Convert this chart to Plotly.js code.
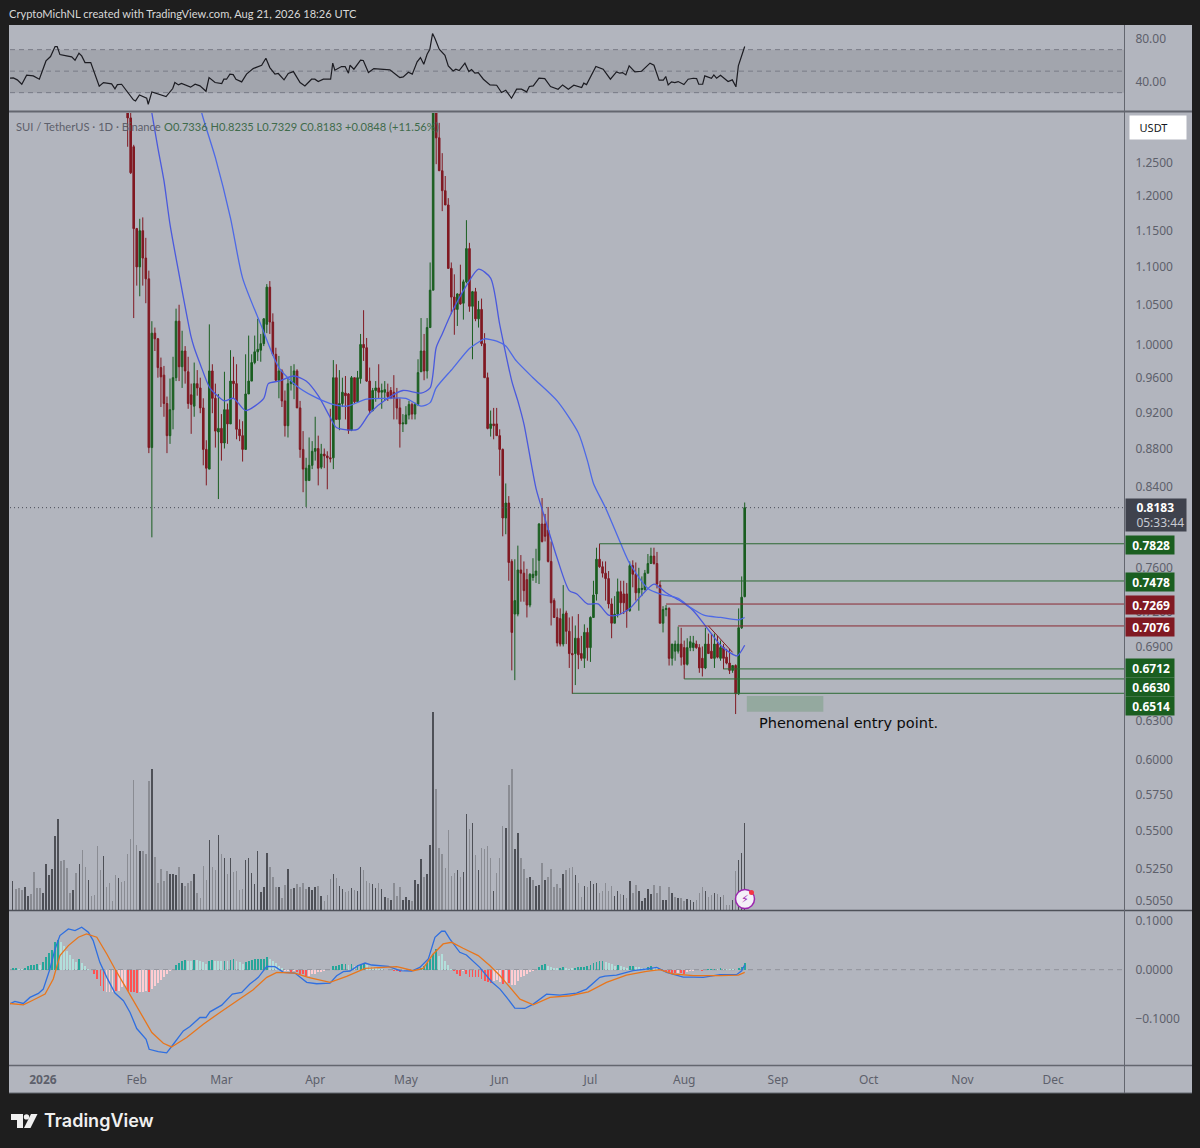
<!DOCTYPE html>
<html><head><meta charset="utf-8">
<script src="https://cdn.plot.ly/plotly-3.0.1.min.js"></script>
<style>html,body{margin:0;padding:0;background:#1e1e1e}#c{width:1200px;height:1148px}</style>
</head><body><div id="c"></div>
<script>
// Days are counted from 2026-01-01 = 0
const firstCandleDay = 28;
const open = [
1.349,1.321,1.275,1.153,1.100,1.150,1.112,1.084,.881,1.014,
1.007,.972,.963,.930,.894,.923,.960,1.029,.973,.992,
.967,.940,.927,.953,.948,.925,.879,.858,.968,.936,
.898,.902,.886,.923,.907,.956,.953,.901,.894,.879,
.941,.956,.978,.991,.993,1.001,1.025,1.073,1.028,.988,
.957,.968,.933,.905,.953,.952,.968,.925,.879,.846,
.846,.862,.877,.880,.860,.874,.872,.870,.870,.960,
.912,.930,.942,.941,.900,.960,.932,.959,1.000,.996,
.956,.922,.945,.948,.943,.943,.943,.945,.943,.936,
.925,.907,.907,.917,.929,.918,.929,.967,.992,.968,
1.021,1.069,1.341,1.289,1.238,1.208,1.187,1.098,1.060,1.044,
1.064,1.052,1.080,1.125,1.048,1.067,1.032,1.044,1.001,.960,
.902,.907,.907,.894,.879,.808,.823,.766,.718,.718,
.758,.755,.749,.726,.751,.753,.767,.802,.802,.796,
.766,.730,.715,.714,.692,.719,.703,.684,.684,.697,
.684,.680,.702,.689,.715,.736,.768,.761,.755,.750,
.727,.710,.718,.738,.736,.736,.721,.762,.754,.737,
.740,.740,.755,.764,.771,.764,.744,.710,.722,.723,
.680,.686,.686,.692,.689,.675,.689,.689,.692,.689,
.680,.672,.692,.686,.680,.692,.680,.689,.681,.676,
.670,.674,.651,.706,.7336];
const high = [
1.366,1.341,1.278,1.154,1.167,1.169,1.140,1.095,1.029,1.021,
1.008,.984,.974,.938,.959,.985,1.045,1.050,1.017,.998,
.985,.953,.978,.969,.960,.936,.889,1.025,.976,.953,
.941,.918,.967,.930,.993,.985,.976,.912,.910,.988,
1.011,.988,1.011,1.032,1.013,1.033,1.077,1.081,1.039,.996,
.986,.970,.945,.960,.974,.976,.970,.933,.899,.870,
.892,.888,.915,.894,.885,.880,.877,.924,.981,.976,
.969,.960,.962,.942,.962,.960,.968,1.013,1.043,1.008,
.972,.948,.956,.976,.953,.956,.953,.949,.963,.948,
.936,.918,.927,.933,.931,.931,.982,1.033,1.013,1.033,
1.106,1.366,1.349,1.313,1.265,1.230,1.197,1.106,1.090,1.065,
1.103,1.083,1.165,1.133,1.068,1.072,1.055,1.058,1.014,.966,
.922,.925,.925,.901,.880,.843,.830,.768,.768,.781,
.772,.766,.759,.755,.769,.778,.803,.828,.812,.819,
.785,.732,.723,.723,.744,.721,.715,.716,.708,.718,
.699,.709,.706,.716,.748,.779,.7828,.766,.766,.757,
.732,.734,.750,.748,.748,.746,.766,.767,.765,.760,
.752,.758,.773,.779,.779,.775,.748,.725,.726,.724,
.692,.695,.707,.706,.695,.697,.699,.699,.695,.692,
.690,.706,.701,.701,.701,.699,.695,.692,.688,.688,
.674,.675,.723,.752,.8235];
const low = [
1.275,1.233,1.033,1.075,1.061,1.075,1.052,.875,.789,.992,
.960,.926,.915,.875,.885,.901,.956,.956,.948,.953,
.924,.896,.915,.939,.919,.862,.841,.858,.919,.881,
.827,.867,.880,.885,.907,.936,.890,.888,.866,.879,
.941,.956,.976,.980,.979,.998,1.014,1.013,.986,.956,
.936,.926,.893,.892,.945,.935,.925,.870,.834,.819,
.846,.858,.867,.841,.858,.859,.837,.865,.858,.912,
.900,.926,.912,.896,.899,.930,.931,.953,.980,.955,
.918,.921,.932,.936,.924,.933,.933,.935,.912,.912,
.881,.898,.907,.912,.912,.912,.927,.967,.957,.959,
1.021,1.069,1.248,1.238,1.178,1.187,1.098,1.038,1.012,1.023,
1.050,1.031,1.078,1.041,.982,1.029,1.021,.998,.960,.901,
.893,.890,.894,.851,.790,.792,.748,.670,.662,.716,
.729,.729,.715,.724,.748,.746,.745,.784,.785,.765,
.708,.715,.690,.690,.690,.692,.672,.651,.658,.671,
.678,.672,.678,.677,.715,.730,.760,.751,.730,.723,
.697,.710,.715,.718,.718,.706,.720,.742,.730,.721,
.734,.739,.755,.764,.763,.741,.710,.702,.716,.674,
.674,.678,.684,.674,.663,.674,.686,.686,.688,.668,
.665,.671,.684,.680,.672,.680,.678,.671,.675,.667,
.668,.635,.650,.705,.7329];
const close = [
1.321,1.235,1.153,1.100,1.150,1.112,1.084,.881,1.014,1.007,
.972,.961,.930,.894,.923,.960,1.029,.973,.992,.968,
.930,.929,.953,.948,.925,.879,.859,.968,.936,.899,
.902,.886,.923,.907,.956,.953,.901,.894,.879,.941,
.956,.978,.991,.994,1.001,1.032,1.073,1.028,.988,.957,
.968,.933,.905,.953,.956,.968,.925,.879,.858,.859,
.862,.877,.880,.859,.874,.872,.870,.869,.960,.912,
.930,.943,.939,.900,.960,.932,.960,1.000,.996,.956,
.922,.945,.948,.943,.945,.946,.938,.936,.936,.925,
.907,.908,.917,.929,.918,.929,.966,.992,.968,1.021,
1.069,1.349,1.289,1.238,1.208,1.187,1.098,1.060,1.044,1.064,
1.051,1.080,1.125,1.048,1.067,1.032,1.044,1.001,.960,.902,
.907,.905,.894,.879,.808,.823,.765,.702,.730,.758,
.755,.739,.726,.754,.754,.757,.802,.785,.790,.766,
.728,.715,.693,.692,.718,.703,.684,.683,.697,.683,
.680,.702,.689,.715,.735,.768,.761,.755,.750,.727,
.710,.718,.738,.728,.728,.721,.762,.754,.737,.741,
.741,.755,.764,.771,.764,.745,.710,.722,.723,.680,
.692,.692,.692,.681,.675,.689,.694,.693,.689,.672,
.672,.692,.684,.680,.692,.681,.689,.680,.676,.670,
.674,.651,.706,.733,.8183];

const fastMaDays = [34,36,38,40,42,45,49,50,52,55,57,60,63,67,73,74.5,78,83,87,91,95,97,104,108,114,119,125,128,130,132,135,140,144,148,151,155,157,159,163,165.5,170,174,176.5,180,183.5,187,190,194,197,202,206,210.5,215,219.5,224,227,229.5,232];
const fastMa = [1.39,1.329,1.273,1.223,1.159,1.090,1.009,.996,.976,.949,.941,.933,.936,.922,.936,.953,.956,.962,.956,.939,.914,.903,.901,.919,.936,.945,.942,.948,.996,1.013,1.039,1.075,1.097,1.085,1.025,.956,.933,.907,.838,.812,.769,.739,.736,.727,.727,.717,.717,.723,.732,.745,.737,.730,.721,.706,.691,.685,.682,.691];
const slowMaDays = [50,52.5,57,62,66,72,78,84,89,95,100.5,107,114,120,125,128,130,135.5,141,144.5,146,150,153,156.5,162,170,177,180,182,186,191,194,200,204,210,214,218.5,224,230,232];
const slowMa = [1.39,1.329,1.258,1.168,1.085,1.025,.972,.950,.939,.930,.927,.935,.936,.936,.927,.931,.948,.971,.995,1.004,1.007,1.004,.998,.980,.960,.933,.897,.867,.843,.818,.783,.764,.741,.736,.732,.724,.717,.715,.713,.715];

const firstVolumeDay = -10;
const volume = [
30,22,23,21,24,15,17,39,23,23,18,47,36,42,75,92,50,51,43,18,21,38,47,61,44,31,15,16,65,41,55,24,28,10,36,33,29,30,57,72,
131,66,60,60,57,130,142,54,28,42,30,40,37,37,36,44,28,25,28,30,37,18,13,45,31,71,44,41,76,57,53,37,53,39,40,21,22,51,53,38,
27,60,19,24,58,44,34,24,24,13,26,42,22,23,27,24,28,22,24,21,24,25,15,10,16,32,37,33,25,22,19,20,23,21,20,44,41,30,28,27,
23,28,22,14,13,11,28,15,24,
11,14,11,10,31,27,52,34,37,66,199,122,63,57,43,81,35,38,41,34,39,97,82,88,56,41,63,62,65,53,20,38,53,85,83,126,142,62,78,53,
42,33,34,31,25,26,48,31,34,42,24,27,23,37,41,43,44,36,28,14,25,24,30,27,28,18,20,28,20,25,15,20,17,16,13,30,18,26,20,10,
13,22,17,26,18,25,11,11,24,18,14,13,13,10,12,11,9,11,18,24,20,14,16,18,17,14,16,6,6,11,40,51,58,88];
const volumeDark = [
1,0,0,0,1,1,0,0,0,0,1,1,1,1,1,1,0,0,0,0,1,0,1,0,0,1,0,0,0,0,1,0,0,0,0,1,0,0,0,0,
0,0,1,0,0,0,1,0,0,0,0,0,1,1,1,0,1,0,0,0,1,0,0,0,0,1,0,0,1,0,1,0,1,0,0,0,0,1,1,1,
1,1,1,1,1,0,0,0,1,0,0,1,0,1,0,0,0,0,1,1,1,0,1,0,0,0,1,0,1,1,0,0,1,0,1,1,0,0,0,1,
1,0,1,1,0,1,0,0,0,
1,1,1,0,1,1,1,0,1,1,1,0,0,0,0,0,0,0,1,0,1,1,0,1,0,1,0,0,0,0,1,0,0,0,1,0,0,1,1,0,
0,0,1,0,1,1,0,1,0,0,0,0,0,1,0,0,0,1,0,0,1,0,1,1,1,0,0,0,0,0,1,1,0,1,0,1,0,0,1,1,
1,1,1,0,0,0,1,1,0,1,0,1,0,0,1,1,1,0,0,0,1,0,0,1,0,1,0,0,0,1,0,1,1,1];

const rsiDays = [-11.1,-9.8,-8.5,-7,-5.4,-3.2,-1.2,1,2.5,4,4.7,5.6,7.8,9.5,10.6,11.9,12.8,13.9,15.8,18.6,20,22.7,23.8,24.6,26,28.2,29.9,30.6,31.9,34.3,34.8,36,40.7,42.9,43.6,44.8,45.8,48.8,50.3,51.9,53.9,54.9,56.9,59.1,59.8,60.7,61.8,62.9,63.8,65.7,67.3,69.5,72.3,73.7,75,76.7,77.8,79.7,81.1,82.8,85,86.6,88.8,89.9,91,92.7,95.1,95.8,96.5,98.7,99.9,101,101.5,102.8,105,105.9,107.6,109.4,114.7,117.5,
118,119.1,120.8,122.1,123.7,124.8,125.9,127,127.9,128.8,129.6,131,132.9,134,135.6,136.5,137.6,139.5,140.8,141.7,142.8,143.9,145.6,147.8,150,151.6,153,154.9,156.6,158.2,159.9,160.8,162.1,164,165.9,167.8,170.3,171.8,173.7,175.5,178.1,178.8,179.7,182.8,185.2,187.6,189.6,190.7,191.6,192.7,193.8,195.7,197.9,200.7,202,203.7,205.1,205.9,206.7,207.8,208.9,210,211.9,213.3,215,216.1,216.8,218.1,218.8,221,221.8,222.7,224,226.5,227.9,229.1,229.9,232];
const rsi = [43.4,43.7,41.9,37.8,46.2,45.6,42.5,59.5,63.6,72.9,72.9,65.4,64.2,63.3,60.2,66.7,64.2,58,58,36,39.4,38.2,33.5,37.5,37.8,30.1,23.3,22.3,27.9,24.8,19.2,30.7,26.4,33.8,39.4,37.2,38.5,35.1,37.8,36.3,31.3,44,39.4,38.5,42.5,42.5,47.2,46.8,42.5,40,47.2,52.4,55.5,62,53.3,47.2,47.8,41.9,47.8,49.6,39.4,36.3,42.5,42.5,40.3,42.5,42.5,57.4,50.9,54.3,54.3,48.1,55.5,51.8,60.2,59.9,48.7,52.4,51.2,45,
44,44.7,49,47.2,58.6,62.6,56.4,65.7,70.4,85,80.3,70.4,64.8,54.9,50.2,51.8,50.6,57.4,49.6,51.5,48.1,48.7,42.5,37.2,36.9,30.1,32.3,24.8,33.2,33.2,30.7,35.7,36.3,43.4,43.1,35.7,33.2,37.2,33.2,36.9,34.7,38.8,37.5,54.3,51.8,42.5,49.3,48.1,48.7,46.5,54.9,49.3,49.9,57.4,55.5,41.6,41.6,45,37.2,40,39.4,40.3,37.5,42.5,43.4,43.1,37.8,37.8,45.6,43.4,46.5,43.4,46.2,40.3,41.9,35.4,54.9,72.9];

const macdDays = [-11.1,-9.3,-6.5,-4.3,-1.5,.1,2.3,4,5.6,8.4,10.6,12.8,15,16.6,18.8,21.1,23.8,26.6,28.8,31,34.1,35.1,38.1,40.9,43.1,46.4,48.6,51.9,53.9,55.2,59.1,62.6,65.7,68.4,71.2,74,76.7,79.5,83.3,87.2,90.5,94.9,97.1,99.3,101.5,104.2,106.5,108.7,114.2,116.9,
118,121.9,124.6,127.4,129.6,131.8,132.9,134.5,137.8,140,144.4,148.3,151.1,153.3,156,159.3,162.1,166.5,170.9,176.4,179.7,184.1,185.8,189.6,195.1,199.5,202.9,206.2,211.7,215,218.3,223.8,229.3,231,232];
const macd = [-.0708,-.0653,-.0694,-.0570,-.0488,-.0399,.0014,.0426,.0701,.0838,.0804,.0873,.0770,.0598,.0151,-.0158,-.0481,-.0639,-.0880,-.1210,-.1430,-.1636,-.1684,-.1711,-.1533,-.1258,-.1168,-.0983,-.0983,-.0866,-.0729,-.0502,-.0467,-.0296,-.0158,.0069,.0062,-.0055,-.0069,-.0261,-.0289,-.0275,-.0124,-.0041,-.0027,.0082,.0137,.0096,.0069,.0014,
-.0021,-.0027,.0048,.0220,.0667,.0790,.0790,.0632,.0357,.0302,.0048,-.0247,-.0399,-.0570,-.0790,-.0797,-.0708,-.0502,-.0522,-.0481,-.0399,-.0158,-.0131,-.0110,-.0021,.0014,.0048,-.0055,-.0151,-.0151,-.0158,-.0103,-.0103,-.0021,.0096];
const signalDays = [-11.1,-6.5,-3.7,.7,3.4,5.6,8.4,11.7,14.4,17.8,21.1,23.8,27.7,32.1,36,39.8,42.5,47.5,53,58.5,64,69.5,74,77.3,83.3,87.7,94.9,100.4,106.5,116.9,
118,122.4,125.7,129,132.3,135.1,138.9,143.9,147.8,151.1,154.4,157.7,162.1,167.6,174.2,180.3,186.3,192.9,199.5,204,208.4,215,223.8,229.9,232];
const signal = [-.0694,-.0722,-.0639,-.0502,-.0192,.0289,.0495,.0667,.0735,.0667,.0323,.0014,-.0399,-.0880,-.1292,-.1512,-.1588,-.1395,-.1120,-.0880,-.0639,-.0412,-.0158,-.0055,-.0069,-.0158,-.0261,-.0137,.0027,.0062,
.0048,-.0021,.0027,.0323,.0529,.0563,.0440,.0289,.0082,-.0124,-.0364,-.0605,-.0722,-.0570,-.0536,-.0454,-.0261,-.0110,-.0034,0,-.0089,-.0124,-.0124,-.0110,-.0055];

// histogram, thousandths; one value per day from firstVolumeDay
const macdHistMilli = [
4.1,3.4,.7,.7,4.1,7.6,9.6,10.3,11,9.6,15.1,25.4,34.4,41.2,56.4,61.1,56.4,48.1,39.2,30.9,22,15.1,22,13.7,8.2,1.4,0,
-8.9,-19.2,-33,-43.3,-46.7,-46.7,-45.4,-43.3,-43.3,-36.4,-33,-43.3,-45.4,-46.7,-48.8,-45.4,-45.4,-43.3,-46.7,-39.9,-33,-27.5,-20.6,-15.8,-8.9,-3.4,0,
9.6,13.7,17.9,19.9,18.6,18.6,20.6,20.6,17.2,15.1,11.7,18.6,19.9,18.6,17.9,17.2,18.6,18.6,20.6,22,17.9,15.1,11,15.1,17.9,19.9,22,22,22,22.7,25.4,22,17.2,13.1,8.2,3.4,
-2.7,-3.4,-4.1,-2.1,-4.1,-8.9,-8.9,-12.4,-12.4,-9.6,-8.2,-5.5,-4.1,-2.7,-1.4,0,
6.9,8.2,10.3,11,11,9.6,11,8.2,10.3,11.7,13.7,10.3,6.2,4.8,3.4,2.1,1.4,0,
-.7,-1.4,-2.1,-3.4,-4.8,-2.7,-1.4,-.7,0,
.7,1.4,4.1,8.2,13.7,22,32.3,42.6,28.9,32.3,18.6,9.6,1.4,
-3.4,-8.9,-12.4,-2.7,-8.9,-14.4,-14.4,-15.8,-15.1,-19.2,-22.7,-24.7,-27.5,-23.4,-20.6,-26.1,-29.6,-27.5,-27.5,-31.6,-31.6,-22.7,-15.8,-12.4,-8.9,-5.5,-2.1,0,
6.2,9.6,11,8.2,5.5,3.4,3.4,4.1,4.8,2.7,2.1,2.7,4.1,4.8,4.8,6.2,6.9,9.6,13.7,15.1,17.2,17.2,15.1,13.1,11,8.2,9.6,7.6,5.5,4.1,8.2,8.2,6.2,6.2,4.1,4.1,4.8,8.2,5.5,3.4,1.4,
-1.4,-3.4,-5.5,-6.9,-7.6,-7.6,-7.6,-8.2,-5.5,-2.7,-2.7,-.7,-.7,-2.1,0,
2.1,2.1,2.1,1.4,3.4,1.4,1.4,1.4,1.4,0,3.4,6.2,13.7];
const macdHistStrong = [
1,1,0,0,1,1,1,1,1,0,1,1,1,1,1,1,0,0,0,0,0,0,1,0,0,0,0,
1,1,1,1,0,0,0,1,0,0,0,1,1,1,1,0,0,0,1,0,0,0,0,0,0,0,0,
1,1,1,1,0,0,1,0,0,0,0,1,1,0,0,0,1,0,1,1,0,0,0,1,1,1,1,1,1,1,1,0,0,0,0,0,
0,0,1,0,1,1,1,1,0,0,0,0,0,0,0,0,
1,1,1,1,1,0,1,0,1,1,1,0,0,0,0,0,0,0,
0,1,1,1,1,0,0,0,0,
1,1,1,1,1,1,1,1,0,0,0,0,0,
1,1,1,0,1,1,1,1,1,1,1,1,1,0,0,0,1,0,1,0,0,0,0,0,0,0,0,0,
1,1,1,0,0,0,0,1,1,0,0,0,1,1,1,1,1,1,1,1,1,1,0,0,0,0,1,0,0,0,1,1,0,0,0,0,1,1,0,0,0,
0,1,1,1,1,0,1,1,0,0,0,0,1,1,0,
1,1,1,0,1,0,0,0,0,0,1,1,1];

const levels = [.7828,.7478,.7269,.7076,.6712,.6630,.6514];
const levelStartDays = [184,204,206,210,225,212,175];
const levelKinds = ['up','up','down','down','up','up','up'];
const levelLabels = ['0.7828','0.7478','0.7269','0.7076','0.6712','0.6630','0.6514'];
const levelLabelShifts = [1,1,1,1,-1,8.5,12.5];
const lastPrice = .8183;
const trendDays = [220,228];
const trendPrices = [.7076,.685];
const entryDays = [232.7,258];
const entryPrices = [.6368,.6493];
const priceTicks = [1.25,1.2,1.15,1.1,1.05,1,.96,.92,.88,.84,.76,.72,.69,.63,.6,.575,.55,.525,.505];
const rsiTicks = [80,40];
const macdTicks = [.1,0,-.1];
const macdTickText = ['0.1000','0.0000','\u22120.1000'];
const monthTicks = ['2026-01-01','2026-02-01','2026-03-01','2026-04-01','2026-05-01','2026-06-01','2026-07-01','2026-08-01','2026-09-01','2026-10-01','2026-11-01','2026-12-01'];
const monthLabels = ['<b>2026</b>','Feb','Mar','Apr','May','Jun','Jul','Aug','Sep','Oct','Nov','Dec'];

const dayDate = d => new Date(Date.UTC(2026,0,1)+d*864e5).toISOString().replace('T',' ').slice(0,19);
const W=1200,H=1148,L=10,R=1124,T=25,B=1066;
const px = x => (x-L)/(R-L);
const py = y => (B-y)/(B-T);
const domain = (top,bot) => [py(bot),py(top)];
const xMax = dayDate(357.4), xMin = dayDate(-10.9);

const UP='#1a5e20', DOWN='#801922', TXT='#5d606b', BG='#b2b5be';
const FONT='"Noto Sans", "Open Sans", sans-serif';
const TEXTFONT='Lato, "Noto Sans", sans-serif';
const candleX = open.map((_,i)=>dayDate(firstCandleDay+i));
const dailyX = volume.map((_,i)=>dayDate(firstVolumeDay+i));
const maLine = c => ({color:c,width:1.3,shape:'spline',smoothing:.7});

const traces = [
 {type:'bar',x:dailyX,y:volume,yaxis:'y4',width:.5*864e5,marker:{color:volumeDark.map(v=>v?'#4e5057':'#8a8c93'),line:{width:0}},hoverinfo:'skip'},
 {type:'scatter',mode:'lines',x:[xMin,xMax],y:[lastPrice,lastPrice],yaxis:'y2',line:{color:'#4a4d57',width:1,dash:'1px 3px'},hoverinfo:'skip'},
 {type:'scatter',mode:'lines',x:entryDays.concat(entryDays.slice().reverse()).map(dayDate),y:[entryPrices[0],entryPrices[0],entryPrices[1],entryPrices[1]],yaxis:'y2',fill:'toself',fillcolor:'#94a99f',line:{width:0},hoverinfo:'skip'},
 {type:'candlestick',x:candleX,open,high,low,close,yaxis:'y2',
  increasing:{line:{color:UP,width:1},fillcolor:UP},decreasing:{line:{color:DOWN,width:1},fillcolor:DOWN},hoverinfo:'skip'},
 {type:'scatter',mode:'lines',x:fastMaDays.map(dayDate),y:fastMa,yaxis:'y2',line:maLine('#4a59dd'),hoverinfo:'skip'},
 {type:'scatter',mode:'lines',x:slowMaDays.map(dayDate),y:slowMa,yaxis:'y2',line:maLine('#4d69e6'),hoverinfo:'skip'},
 {type:'scatter',mode:'lines',x:trendDays.map(dayDate),y:trendPrices,yaxis:'y2',line:{color:DOWN,width:1},hoverinfo:'skip'},
 {type:'scatter',mode:'lines',x:rsiDays.map(dayDate),y:rsi,yaxis:'y',line:{color:'#1c1c22',width:1.2},hoverinfo:'skip'},
 {type:'bar',x:dailyX,y:macdHistMilli.map(v=>v/1000),yaxis:'y3',width:.62*864e5,
  marker:{color:macdHistMilli.map((v,i)=>v>=0?(macdHistStrong[i]?'#26a69a':'#b2dfdb'):(macdHistStrong[i]?'#ff5252':'#ffcdd2')),line:{width:0}},hoverinfo:'skip'},
 {type:'scatter',mode:'lines',x:macdDays.map(dayDate),y:macd,yaxis:'y3',line:{color:'#2f6fe0',width:1.3},hoverinfo:'skip'},
 {type:'scatter',mode:'lines',x:signalDays.map(dayDate),y:signal,yaxis:'y3',line:{color:'#e8761c',width:1.3},hoverinfo:'skip'}
];
levels.forEach((lv,i)=>traces.push({type:'scatter',mode:'lines',x:[dayDate(levelStartDays[i]),xMax],y:[lv,lv],yaxis:'y2',
  line:{color:levelKinds[i]==='up'?'#2c6a33':'#8a2a33',width:1},hoverinfo:'skip'}));

const yBase = {showgrid:false,zeroline:false,showline:false,side:'right',ticks:'outside',ticklen:8,tickcolor:'rgba(0,0,0,0)',
  tickfont:{family:FONT,size:12,color:TXT},tickmode:'array',fixedrange:true};

const rect=(x0,y0,x1,y1,fill,extra)=>Object.assign({type:'rect',xref:'paper',yref:'paper',x0:px(x0),x1:px(x1),y0:py(y0),y1:py(y1),fillcolor:fill,line:{width:0},layer:'below'},extra||{});
const hline=(y,x0,x1,color,w)=>({type:'line',xref:'paper',yref:'paper',x0:px(x0),x1:px(x1),y0:py(y),y1:py(y),line:{color,width:w},layer:'above'});
const dash=(axis,v)=>({type:'line',xref:'paper',yref:axis,x0:0,x1:1,y0:v,y1:v,line:{color:'#787b86',width:1,dash:'5px 4px'},layer:'below'});
const pathOf=pts=>'M'+pts.map(p=>px(p[0])+','+py(p[1])).join(' L')+' Z';

const shapes=[
 rect(9,25,1192,1093,BG),
 {type:'rect',xref:'paper',yref:'y',x0:0,x1:1,y0:30,y1:70,fillcolor:'#a2a5ad',line:{width:0},layer:'below'},
 dash('y',70),dash('y',50),dash('y',30),
 {type:'line',xref:'paper',yref:'y3',x0:0,x1:1,y0:0,y1:0,line:{color:'#8f929b',width:1,dash:'5px 4px'},layer:'below'},
 hline(111.5,9,1192,'#63666f',2),
 hline(910.5,9,1192,'#4e5159',1.5),
 hline(1065.5,9,1192,'#63666f',1.5),
 hline(1093,9,1192,'#63666f',1),
 {type:'line',xref:'paper',yref:'paper',x0:px(1124.5),x1:px(1124.5),y0:py(25),y1:py(1093),line:{color:'#63666f',width:1},layer:'above'},
 // TradingView mark
 {type:'path',xref:'paper',yref:'paper',path:pathOf([[11,1114],[23,1114],[23,1128],[17,1128],[17,1120],[11,1120]]),fillcolor:'#f0f0f0',line:{width:0},layer:'above'},
 {type:'circle',xref:'paper',yref:'paper',x0:px(23.8),x1:px(29.2),y0:py(1114.2),y1:py(1119.6),fillcolor:'#f0f0f0',line:{width:0},layer:'above'},
 {type:'path',xref:'paper',yref:'paper',path:pathOf([[31,1114],[37.5,1114],[30.5,1128],[24,1128]]),fillcolor:'#f0f0f0',line:{width:0},layer:'above'},
 // alert badge
 {type:'circle',xref:'paper',yref:'paper',x0:px(735.5),x1:px(754.5),y0:py(889.5),y1:py(908.5),fillcolor:'#f4f0f8',line:{color:'#9c27b0',width:1.5},layer:'above'},
 {type:'circle',xref:'paper',yref:'paper',x0:px(749),x1:px(754),y0:py(890),y1:py(895),fillcolor:'#f23645',line:{width:0},layer:'above'}
];

const note=(x,y,text,opts)=>Object.assign({xref:'paper',yref:'paper',x:px(x),y:py(y),text,showarrow:false,xanchor:'left',yanchor:'middle',font:{family:TEXTFONT,size:11,color:TXT}},opts||{});
const annotations=[
 note(7,13,'CryptoMichNL created with TradingView.com, Aug 21, 2026 18:26 UTC',{font:{family:TEXTFONT,size:11.1,color:'#d8d8d8'}}),
 note(14,126,'SUI / TetherUS · 1D · Binance',{font:{family:TEXTFONT,size:11.2,color:'#5d606b'}}),
 note(162,126,'O0.7336 H0.8235 L0.7329 C0.8183 +0.0848 (+11.56%)',{font:{family:TEXTFONT,size:11.1,color:'#3f6b4b'}}),
 note(1129,127.5,'&nbsp;&nbsp;&nbsp;USDT',{width:54,height:21,align:'left',bgcolor:'#ffffff',font:{family:FONT,size:11,color:'#131722'}}),
 note(757,723,'Phenomenal entry point.',{font:{family:'"DejaVu Sans"',size:14.5,color:'#0b0b0b'}}),
 note(745,899,'\u26A1',{xanchor:'center',font:{family:'"DejaVu Sans"',size:11,color:'#9c27b0'}}),
 note(42,1120.5,'TradingView',{font:{family:'Inter, "Noto Sans"',size:18,color:'#f0f0f0',weight:600}}),
 note(1125,515,'&nbsp;&nbsp;&nbsp;<b>0.8183</b><br>&nbsp;&nbsp;&nbsp;<span style="color:#c8cad2">05:33:44</span>',{width:58,height:30,bgcolor:'#3f424d',align:'left',font:{family:FONT,size:12,color:'#ffffff'}})
];
levels.forEach((lv,i)=>annotations.push({xref:'paper',yref:'y2',x:px(1125),y:Math.log10(lv),yshift:-levelLabelShifts[i],text:'&nbsp;&nbsp;<b>'+levelLabels[i]+'</b>',showarrow:false,
  xanchor:'left',yanchor:'middle',width:48,height:18.3,borderpad:0,align:'left',bgcolor:levelKinds[i]==='up'?UP:DOWN,font:{family:FONT,size:12,color:'#ffffff'}}));

const layout={
 width:W,height:H,paper_bgcolor:'#1e1e1e',plot_bgcolor:'rgba(0,0,0,0)',showlegend:false,hovermode:false,dragmode:false,
 margin:{l:L,r:W-R,t:T,b:H-B,pad:0},bargap:0,boxgap:.25,
 xaxis:{type:'date',range:[xMin,xMax],anchor:'y3',showgrid:false,zeroline:false,showline:false,rangeslider:{visible:false},fixedrange:true,
   tickmode:'array',tickvals:monthTicks,ticktext:monthLabels,ticks:'outside',ticklen:3,tickcolor:'rgba(0,0,0,0)',tickfont:{family:FONT,size:12,color:TXT}},
 yaxis:Object.assign({},yBase,{domain:domain(26,112),range:[12,92],tickvals:rsiTicks,ticktext:['80.00','40.00'],anchor:'x'}),
 yaxis4:{domain:domain(113,911),range:[0,798],visible:false,anchor:'x',fixedrange:true},
 yaxis2:Object.assign({},yBase,{domain:domain(113,911),type:'log',range:[Math.log10(.4985),Math.log10(1.329)],tickvals:priceTicks,ticktext:priceTicks.map(v=>v.toFixed(4)),overlaying:'y4',anchor:'x'}),
 yaxis3:Object.assign({},yBase,{domain:domain(912,1066),range:[-.198,.1186],tickvals:macdTicks,ticktext:macdTickText,anchor:'x'}),
 shapes,annotations
};
Plotly.newPlot('c',traces,layout,{displayModeBar:false,staticPlot:true});
</script></body></html>
